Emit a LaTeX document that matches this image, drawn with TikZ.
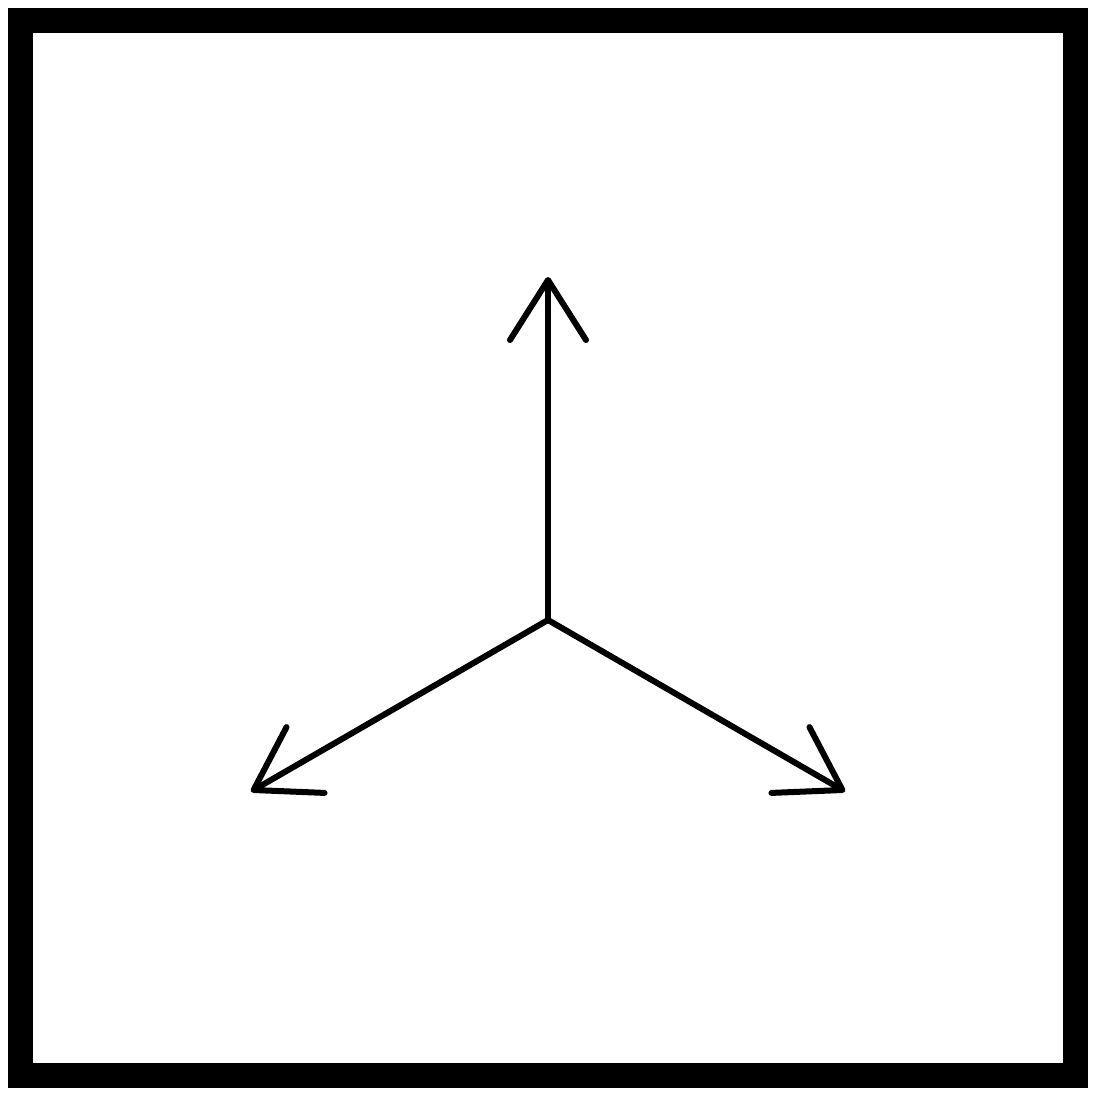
\documentclass[tikz,border=0pt]{standalone}
\usetikzlibrary{arrows.meta}
\begin{document}
\begin{tikzpicture}[x=1pt,y=-1pt,
  frame/.style={line width=25pt},
  axis/.style={line width=6pt,line cap=round,line join=round,
    -{Straight Barb[length=60pt,width=76pt,line cap=round,line join=round]}}]
\useasboundingbox (0,0) rectangle (1096,1096);
\draw[frame] (20.5,20.5) rectangle (1075.5,1075.5);
\coordinate (o) at (548,620);
\coordinate (up) at (548,277);
\coordinate (ll) at (251,791.5);
\coordinate (lr) at (845,791.5);
\draw[axis] (o) -- (up);
\draw[axis] (o) -- (ll);
\draw[axis] (o) -- (lr);
\end{tikzpicture}
\end{document}
